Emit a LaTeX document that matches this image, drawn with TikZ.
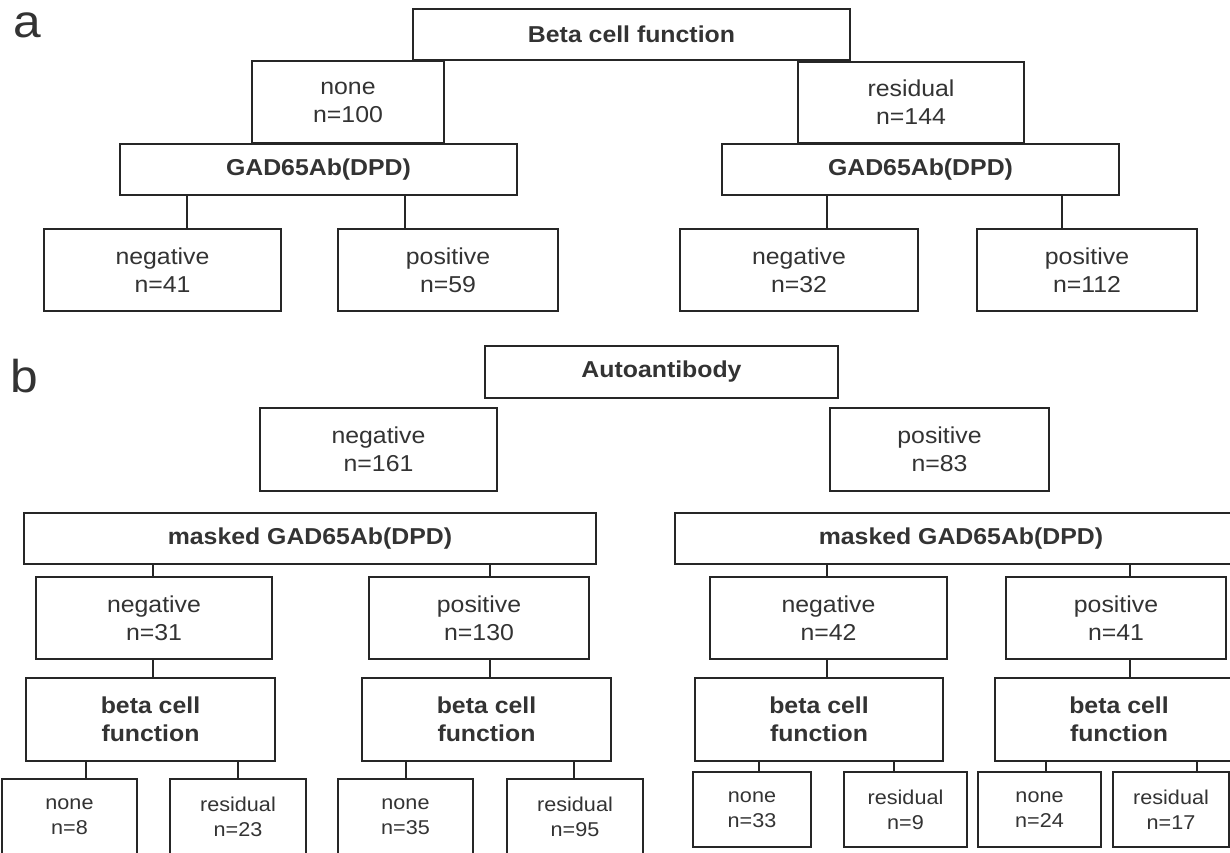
\documentclass[tikz,border=0pt]{standalone}
\usepackage{fontspec}
\setmainfont{Liberation Sans}[FakeStretch=1.08]
\usepackage{tikz}
\usetikzlibrary{positioning}
\definecolor{linegray}{gray}{0.15}
\definecolor{textgray}{gray}{0.2}
\tikzset{
  box/.style={draw=linegray, line width=2pt, fill=white, align=center, text=textgray,
      inner sep=0pt, outer sep=0pt, anchor=north west, font=\fontsize{23}{28}\selectfont},
  head/.style={box, font=\bfseries\fontsize{23}{28}\selectfont},
  leaf/.style={box, font=\fontsize{20}{25}\selectfont},
  sz/.style 2 args={minimum width=#1pt, minimum height=#2pt},
  link/.style={draw=linegray, line width=2pt},
  tag/.style={anchor=base west, inner sep=0pt, text=textgray, font=\fontsize{46}{46}\selectfont}
}
\begin{document}
\begin{tikzpicture}[x=1pt,y=-1pt]
    \useasboundingbox (0,0) rectangle (1230,852);
    \clip (0,0) rectangle (1230,852);
    % part a
    \node (tagA) [tag] at (13,37) {a};
    \node (betaA) [head,sz={437}{51}] at (413,9) {Beta cell function};
    \node (noneA) [box,sz={192}{82}] at (252,61) {none\\n=100};
    \node (resA) [box,sz={226}{81}] at (798,62) {residual\\n=144};
    \node (gadA1) [head,sz={397}{51}] at (120,144) {GAD65Ab(DPD)};
    \node (gadA2) [head,sz={397}{51}] at (722,144) {GAD65Ab(DPD)};
    \node (negA1) [box,sz={237}{82}] at (44,229) {negative\\n=41};
    \node (posA1) [box,sz={220}{82}] at (338,229) {positive\\n=59};
    \node (negA2) [box,sz={238}{82}] at (680,229) {negative\\n=32};
    \node (posA2) [box,sz={220}{82}] at (977,229) {positive\\n=112};
    \foreach \cx/\up/\down in {187/gadA1/negA1, 405/gadA1/posA1, 827/gadA2/negA2, 1062/gadA2/posA2}
      \draw[link] (\up.south -| \cx,0) -- (\down.north -| \cx,0);
    % part b
    \node (tagB) [tag] at (10,392) {b};
    \node (autoB) [head,sz={353}{52}] at (485,346) {Autoantibody};
    \node (negB) [box,sz={237}{83}] at (260,408) {negative\\n=161};
    \node (posB) [box,sz={219}{83}] at (830,408) {positive\\n=83};
    \node (gadB1) [head,sz={572}{51}] at (24,513) {masked GAD65Ab(DPD)};
    \node (gadB2) [head,sz={572}{51}] at (675,513) {masked GAD65Ab(DPD)};
    \node (negB1) [box,sz={236}{82}] at (36,577) {negative\\n=31};
    \node (posB1) [box,sz={220}{82}] at (369,577) {positive\\n=130};
    \node (negB2) [box,sz={237}{82}] at (710,577) {negative\\n=42};
    \node (posB2) [box,sz={220}{82}] at (1006,577) {positive\\n=41};
    \node (betaB1) [head,sz={249}{83}] at (26,678) {beta cell\\function};
    \node (betaB2) [head,sz={249}{83}] at (362,678) {beta cell\\function};
    \node (betaB3) [head,sz={248}{83}] at (695,678) {beta cell\\function};
    \node (betaB4) [head,sz={248}{83}] at (995,678) {beta cell\\function};
    \node (noneB1) [leaf,sz={135}{75}] at (2,779) {none\\n=8};
    \node (resB1) [leaf,sz={136}{75}] at (170,779) {residual\\n=23};
    \node (noneB2) [leaf,sz={135}{75}] at (338,779) {none\\n=35};
    \node (resB2) [leaf,sz={136}{75}] at (507,779) {residual\\n=95};
    \node (noneB3) [leaf,sz={118}{75}] at (693,772) {none\\n=33};
    \node (resB3) [leaf,sz={123}{75}] at (844,772) {residual\\n=9};
    \node (noneB4) [leaf,sz={123}{75}] at (978,772) {none\\n=24};
    \node (resB4) [leaf,sz={116}{75}] at (1113,772) {residual\\n=17};
    \foreach \cx/\up/\down in {153/gadB1/negB1, 490/gadB1/posB1, 827/gadB2/negB2, 1130/gadB2/posB2,
        153/negB1/betaB1, 490/posB1/betaB2, 827/negB2/betaB3, 1130/posB2/betaB4,
        86/betaB1/noneB1, 238/betaB1/resB1, 406/betaB2/noneB2, 574/betaB2/resB2,
        759/betaB3/noneB3, 894/betaB3/resB3, 1046/betaB4/noneB4, 1197/betaB4/resB4}
      \draw[link] (\up.south -| \cx,0) -- (\down.north -| \cx,0);
\end{tikzpicture}
\end{document}
